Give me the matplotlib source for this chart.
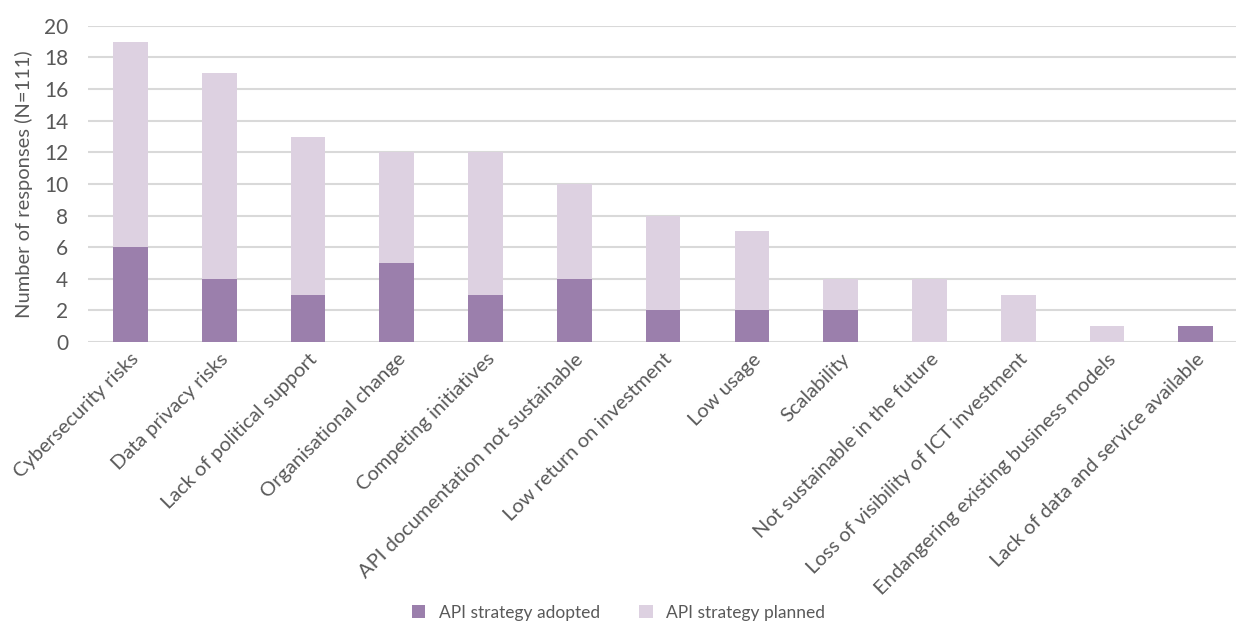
import numpy as np
import matplotlib
matplotlib.use("Agg")
import matplotlib.pyplot as plt

categories = [
    "Cybersecurity risks", "Data privacy risks", "Lack of political support",
    "Organisational change", "Competing initiatives",
    "API documentation not sustainable", "Low return on investment",
    "Low usage", "Scalability", "Not sustainable in the future",
    "Loss of visibility of ICT investment", "Endangering existing business models",
    "Lack of data and service available",
]
adopted = [6, 4, 3, 5, 3, 4, 2, 2, 2, 0, 0, 0, 1]
planned = [13, 13, 10, 7, 9, 6, 6, 5, 2, 4, 3, 1, 0]
yticks = list(range(0, 21, 2))

c_adopted = "#9b7fac"
c_planned = "#ddd1e1"
txt = "#595959"

plt.rcParams['font.family'] = ['Lato', 'DejaVu Sans']

fig = plt.figure(figsize=(12.37, 6.30), dpi=100)
ax = fig.add_axes([0.071, 0.457, 0.928, 0.502])

x = np.arange(len(categories))
w = 0.39
ax.bar(x, adopted, w, color=c_adopted, label="API strategy adopted", zorder=3)
ax.bar(x, planned, w, bottom=adopted, color=c_planned, label="API strategy planned", zorder=3)

ax.set_xlim(-0.48, 12.45)
ax.set_ylim(0, 20)
ax.set_yticks(yticks)
ax.set_yticklabels([str(v) for v in yticks], fontsize=15, color=txt)
ax.yaxis.grid(True, color="#d9d9d9", linewidth=1.5, zorder=0)
ax.tick_params(axis="y", length=0, pad=14)
ax.tick_params(axis="x", length=0, pad=6)
ax.set_xticks(x)
ax.set_xticklabels(categories, rotation=45, ha="right", rotation_mode="anchor",
                   fontsize=14.5, color=txt)
for s in ax.spines.values():
    s.set_visible(False)

ax.set_ylabel("Number of responses (N=111)", fontsize=14.5, color=txt, labelpad=8)

fig.legend(loc="lower center", bbox_to_anchor=(0.5, -0.01), ncol=2, frameon=False,
           fontsize=12.5, handlelength=0.8, handleheight=0.8, columnspacing=2.2,
           labelcolor=txt)

fig.savefig("out.png", dpi=100)
